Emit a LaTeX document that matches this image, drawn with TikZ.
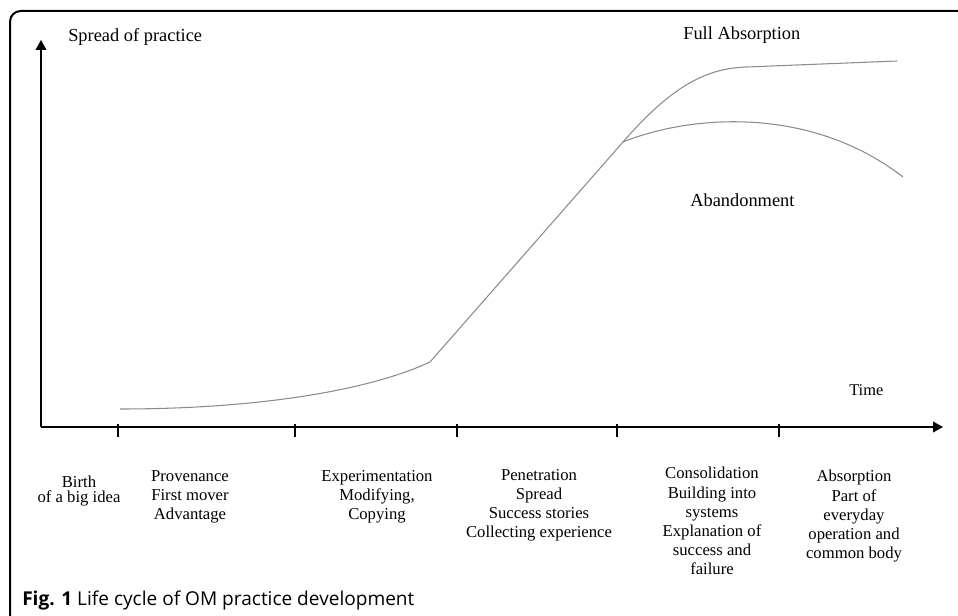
\documentclass[tikz,border=0pt]{standalone}
\usepackage{fontspec}
\setmainfont{Liberation Serif}
\newfontfamily\capfont{Open Sans}
\usepackage{tikz}
\usetikzlibrary{positioning, arrows.meta}

\begin{document}
\begin{tikzpicture}[x=0.75pt, y=-0.75pt,
	axis/.style={line width=1.1pt, -{Triangle[length=7.5pt, width=8pt]}},
	curve/.style={draw=black!45, line width=0.8pt},
	lbl/.style={inner sep=0pt, anchor=base west, font=\fontsize{13.8}{16}\selectfont},
	stage/.style={inner sep=0pt, align=center, anchor=north, font=\fontsize{12.5}{14.4}\selectfont}]
		\useasboundingbox (0,0) rectangle (958,616);
		\draw[line width=1.5pt, rounded corners=8pt] (10,616) -- (10,11) -- (958,11);
		
		\coordinate (o) at (41,427);
		\coordinate (ytip) at (41,40);
		\coordinate (xtip) at (943,427);
		\draw[axis] (o) -- (ytip);
		\draw[axis] (o) -- (xtip);
		\foreach \x in {118, 295, 457, 617, 779}
			\draw[line width=0.8pt] (\x,424) -- (\x,437);
		
		\coordinate (c0) at (120,409);
		\coordinate (c1) at (430,362);
		\coordinate (c2) at (623,142);
		\coordinate (c3) at (747,67);
		\coordinate (c4) at (897,61);
		\coordinate (c5) at (903,177);
		\draw[curve] (c0) .. controls (260,409) and (370,390) .. (c1) -- (c2);
		\draw[curve] (c2) .. controls (670,88) and (705,68) .. (c3) -- (c4);
		\draw[curve] (c2) .. controls (690,115) and (810,105) .. (c5);
		
		\node[lbl] (spread) at (68,42) {Spread of practice};
		\node[lbl] (full) at (683,40) {Full Absorption};
		\node[lbl] (aband) at (690,207) {Abandonment};
		\node[lbl, font=\fontsize{12.3}{14}\selectfont] (time) at (849,396) {Time};
		
		\node[stage, font=\fontsize{12.5}{11.3}\selectfont] (birth) at (79,476) {Birth\\of a big idea};
		\node[stage] (prov) at (190,470) {Provenance\\First mover\\Advantage};
		\node[stage] (exper) at (377,470) {Experimentation\\Modifying,\\Copying};
		\node[stage] (penet) at (539,469) {Penetration\\Spread\\Success stories\\Collecting experience};
		\node[stage] (consol) at (712,467) {Consolidation\\Building into\\systems\\Explanation of\\success and\\failure};
		\node[stage] (absorp) at (854,470) {Absorption\\Part of\\everyday\\operation and\\common body};
		
		\node[inner sep=0pt, anchor=base west, font=\capfont\fontsize{14.3}{16}\selectfont] (caption) at (22,606) {\textbf{Fig. 1} Life cycle of OM practice development};
	\end{tikzpicture}
\end{document}
